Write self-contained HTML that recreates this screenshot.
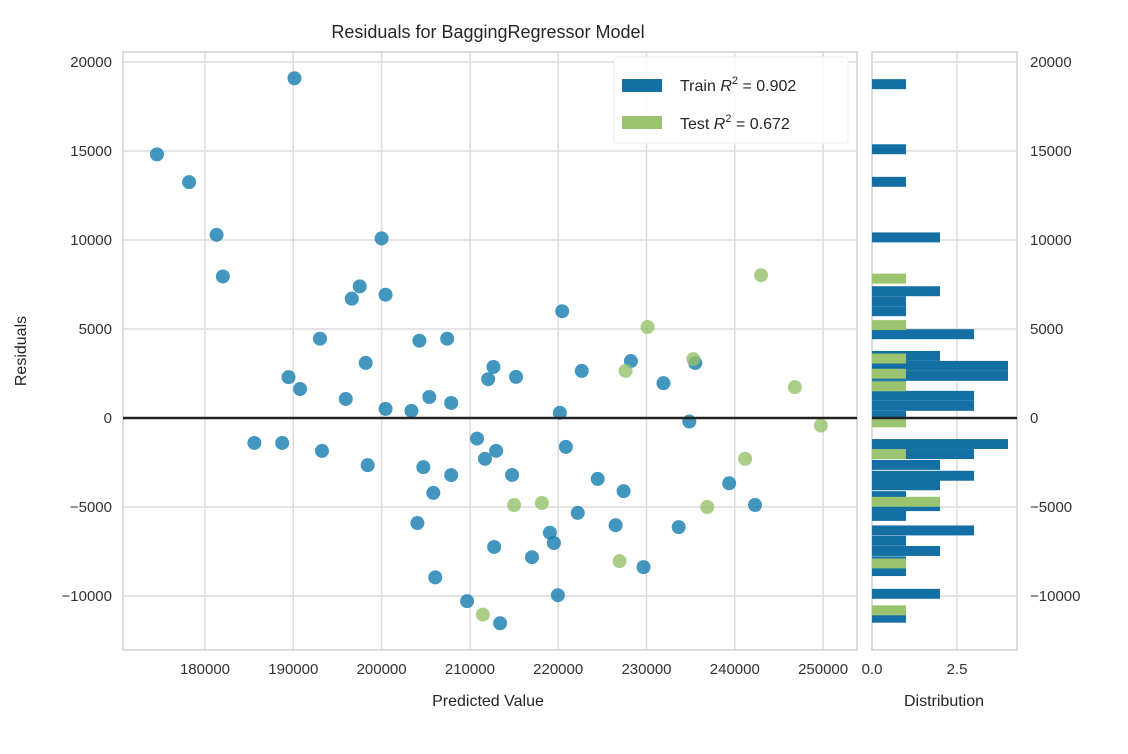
<!DOCTYPE html>
<html><head><meta charset="utf-8">
<style>
html,body{margin:0;padding:0;background:#fff;}
svg{display:block;font-family:"Liberation Sans",sans-serif;}
</style></head>
<body>
<svg id="chart" width="1128" height="754" viewBox="0 0 1128 754">
  <rect x="0" y="0" width="1128" height="754" fill="#fff"/>
  <text x="488" y="38" font-size="18" fill="#262626" text-anchor="middle">Residuals for BaggingRegressor Model</text>
  <g id="main"></g>
  <g id="hist"></g>
  <text x="488" y="706" font-size="16" fill="#262626" text-anchor="middle">Predicted Value</text>
  <text x="0" y="0" font-size="16" fill="#262626" text-anchor="middle" transform="translate(26,351) rotate(-90)">Residuals</text>
  <text x="944" y="706" font-size="16" fill="#262626" text-anchor="middle">Distribution</text>
  <g>
    <rect x="614" y="57" width="234" height="86" rx="3" fill="#fff" fill-opacity="0.85" stroke="#eee"/>
    <rect x="622" y="79" width="40" height="13" fill="#1470a4"/>
    <text x="680" y="91" font-size="16" fill="#262626">Train <tspan font-style="italic">R</tspan><tspan font-size="11" dy="-7">2</tspan><tspan dy="7"> = 0.902</tspan></text>
    <rect x="622" y="116" width="40" height="13" fill="#9ac46f"/>
    <text x="680" y="129" font-size="16" fill="#262626">Test <tspan font-style="italic">R</tspan><tspan font-size="11" dy="-7">2</tspan><tspan dy="7"> = 0.672</tspan></text>
  </g>
</svg>
<script>
const xTicks=[180000,190000,200000,210000,220000,230000,240000,250000];
const xTickLabels=["180000","190000","200000","210000","220000","230000","240000","250000"];
const yTicks=[20000,15000,10000,5000,0,-5000,-10000];
const yTickLabels=["20000","15000","10000","5000","0","\u22125000","\u221210000"];
const histTicks=[0,2.5];
const histTickLabels=["0.0","2.5"];
const trainX=[190131,174559,178199,181313,182026,200000,197523,196623,200450,193021,204278,207430,198199,189456,190769,195947,205403,207880,200450,203377,185591,188743,193246,198424,204728,207880,205854,204053,210807,211707,206079,209681,213421,220451,212669,212068,215226,222669,228233,231917,235526,220188,234850,212970,220865,214774,224474,227406,222218,226504,233647,219060,219511,212744,217030,229662,219962,239361,242293];
const trainY=[19087,14811,13252,10290,7951,10089,7394,6704,6927,4454,4343,4454,3096,2294,1626,1069,1180,846,512,401,-1403,-1403,-1849,-2650,-2762,-3207,-4209,-5902,-1158,-2294,-8953,-10290,-11533,6000,2867,2178,2311,2644,3200,1956,3089,289,-200,-1844,-1622,-3200,-3422,-4111,-5333,-6022,-6133,-6444,-7022,-7244,-7822,-8378,-9956,-3667,-4889];
const testX=[242970,230113,235301,227632,246805,249737,241165,215000,218158,236880,226955,211466];
const testY=[8022,5111,3311,2644,1733,-422,-2289,-4889,-4778,-5000,-8044,-11044];
const trainBinCenters=[18756,15098,13268,10146,7122,6561,6000,4707,3488,2927,2366,1805,1244,683,122,-1463,-2024,-2634,-3244,-3780,-4390,-4950,-5500,-6317,-6900,-7470,-8050,-8600,-9878,-11219];
const trainBinCounts=[1,1,1,2,2,1,1,3,2,4,4,1,3,3,1,4,3,2,3,2,1,2,1,3,1,2,1,1,2,1];
const testBinCenters=[7829,5220,3341,2488,1780,-244,-2024,-4707,-8171,-10805];
const testBinCounts=[1,1,1,1,1,1,1,2,1,1];
const binWidth=560;

const NS="http://www.w3.org/2000/svg";
const L=123,R=857,T=52,B=650,HL=872,HR=1017;
const xS=v=>205+(v-180000)*0.00883;
const yS=v=>418-v*0.0178;
const hS=c=>HL+c*34;
function mk(tag,attrs,parent){const e=document.createElementNS(NS,tag);for(const k in attrs)e.setAttribute(k,attrs[k]);parent.appendChild(e);return e;}
const main=document.getElementById('main'),hist=document.getElementById('hist');

let r=mk('rect',{x:L,y:T,width:R-L,height:B-T,fill:'#fff',stroke:'#d0d0d0','stroke-width':1.5},main);


r=mk('rect',{x:HL,y:T,width:HR-HL,height:B-T,fill:'#fff',stroke:'#d0d0d0','stroke-width':1.5},hist);



xTicks.forEach((t,i)=>{
  const x=xS(t);
  const g=mk('line',{x1:x,x2:x,y1:T,y2:B,stroke:'#dcdcdc','stroke-width':1.5},main);
  
  
  const tx=mk('text',{x:x,y:674,'font-size':15,fill:'#333','text-anchor':'middle'},main);
  tx.textContent=xTickLabels[i];
  
  
});
yTicks.forEach((t,i)=>{
  const y=yS(t);
  const g=mk('line',{x1:L,x2:R,y1:y,y2:y,stroke:'#dcdcdc','stroke-width':1.5},main);
  
  
  const g2=mk('line',{x1:HL,x2:HR,y1:y,y2:y,stroke:'#dcdcdc','stroke-width':1.5},hist);
  
  
  const tx=mk('text',{x:112,y:y+5,'font-size':15,fill:'#333','text-anchor':'end'},main);
  tx.textContent=yTickLabels[i];
  
  
  const tx2=mk('text',{x:1030,y:y+5,'font-size':15,fill:'#333'},hist);
  tx2.textContent=yTickLabels[i];
  
  
});
histTicks.forEach((t,i)=>{
  const x=hS(t);
  if(i>0){const g=mk('line',{x1:x,x2:x,y1:T,y2:B,stroke:'#dcdcdc','stroke-width':1.5},hist);
  
  }
  const tx=mk('text',{x:x,y:674,'font-size':15,fill:'#333','text-anchor':'middle'},hist);
  tx.textContent=histTickLabels[i];
  
  
});

trainBinCenters.forEach((c,i)=>{
  const y1=yS(c+binWidth/2),y2=yS(c-binWidth/2);
  const b=mk('rect',{x:HL,y:y1,width:hS(trainBinCounts[i])-HL,height:y2-y1,fill:'#1470a4'},hist);
  
  
});
testBinCenters.forEach((c,i)=>{
  const y1=yS(c+binWidth/2),y2=yS(c-binWidth/2);
  const b=mk('rect',{x:HL,y:y1,width:hS(testBinCounts[i])-HL,height:y2-y1,fill:'#9ac46f'},hist);
  
  
});

trainX.forEach((v,i)=>{
  const p=mk('circle',{cx:xS(v),cy:yS(trainY[i]),r:7,fill:'#1a7fb0','fill-opacity':0.82},main);
  
  
});
testX.forEach((v,i)=>{
  const p=mk('circle',{cx:xS(v),cy:yS(testY[i]),r:7,fill:'#95c26a','fill-opacity':0.8},main);
  
  
});

let z=mk('line',{x1:L,x2:R,y1:yS(0),y2:yS(0),stroke:'#222','stroke-width':2.5},main);


z=mk('line',{x1:HL,x2:HR,y1:yS(0),y2:yS(0),stroke:'#222','stroke-width':2.5},hist);


</script>
</body></html>
